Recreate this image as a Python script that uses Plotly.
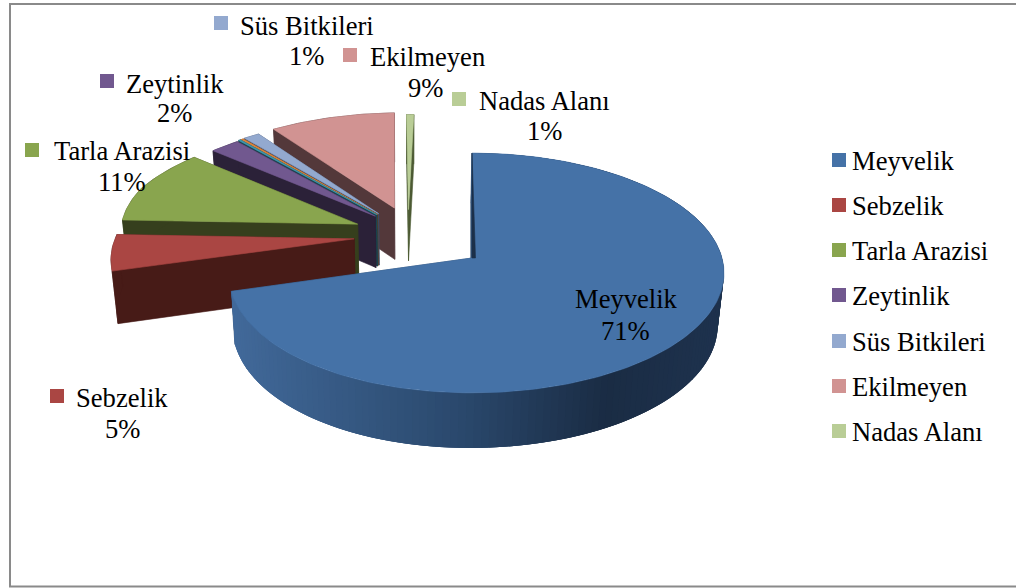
import math
import plotly.graph_objects as go

# ---- data ---------------------------------------------------------------
CATEGORIES = ["Meyvelik", "Sebzelik", "Tarla Arazisi", "Zeytinlik", "", "", "Süs Bitkileri", "Ekilmeyen", "Nadas Alanı"]
VALUES = [70.6, 5.0, 10.7, 2.2, 0.15, 0.2, 1.2, 9.4, 0.55]

# ---- styles ---------------------------------------------------------------
TOP_COLORS = ["#4572A7", "#AA4643", "#89A54E", "#71588F", "#4198AF", "#DB843D", "#93A9CF", "#D19392", "#B9CD96"]
WALL_COLORS = ["#2A4668", "#471B17", "#363F1D", "#2B2138", "#1A4550", "#6B3A14", "#3D4A63", "#53383A", "#4C5A33"]
FONT = "Liberation Serif"
FS = 26.6

# label placement: swatch x,y, name centre x,y, percent centre x,y
LABEL_POS = {
    "Meyvelik": (555, 297, 626, 299, 625, 331),
    "Sebzelik": (57, 396, 122, 398, 122, 429),
    "Tarla Arazisi": (32, 150, 122, 151, 122, 182),
    "Zeytinlik": (107, 81, 175, 84, 174, 113),
    "Süs Bitkileri": (221, 23, 307, 26, 306, 56),
    "Ekilmeyen": (350, 55, 427, 57, 425, 88),
    "Nadas Alanı": (459, 99, 544, 101, 544, 131),
}
LEGEND_X = 839
LEGEND_TEXT_X = 850
LEGEND_Y = [160, 205, 250, 295, 341, 386, 431]

# ---- projection of the tilted 3-D pie ----------------------------------
CX, CY, A, B, K = 472, 258, 250, 118, 0.125
EXPLODE = 0.27
VX, VS = 410, 0.98
SLICE_DX = [0, -1, -3, 0, -2, -2, -3, -6, -11.5]
SLICE_DY = [0, -4, -4, -2, -2, -2, -2, -3, 0]


def project(u, v):
    w = 1 + K * v
    weight = max(0.0, min(1.0, (0.6 - v) / 0.4)) if u < 0 else 0.0
    return CX + A * u / w + 9 * min(1.0, u * u) * weight, CY - B * v / w


def lower(p):
    x, y = p
    return VX + (x - VX) * VS, y + 50 + (y - 150) * 0.021


total = sum(VALUES)
edges = [0.0]
for val in VALUES:
    edges.append(edges[-1] + val / total * 2 * math.pi)


def centre(i):
    mid = (edges[i] + edges[i + 1]) / 2
    mid0 = (edges[0] + edges[1]) / 2
    return (EXPLODE * (math.sin(mid) - math.sin(mid0)), EXPLODE * (math.cos(mid) - math.cos(mid0)))


def apex_of(i):
    x, y = project(*centre(i))
    return x + SLICE_DX[i], y + SLICE_DY[i]


def rim(i, t):
    c = centre(i)
    x, y = project(c[0] + math.sin(t), c[1] + math.cos(t))
    return x + SLICE_DX[i], y + SLICE_DY[i]


def arc(i, a, b, n=None):
    n = n or max(2, int((b - a) / 0.02))
    return [rim(i, a + (b - a) * j / n) for j in range(n + 1)]


def poly(fig, pts, color, edge=0.6):
    fig.add_trace(go.Scatter(
        x=[p[0] for p in pts] + [pts[0][0]], y=[p[1] for p in pts] + [pts[0][1]],
        mode="lines", fill="toself", fillcolor=color,
        line=dict(color=color, width=edge), hoverinfo="skip", showlegend=False))


STOPS = [(230, (66, 106, 155)), (480, (42, 72, 108)), (620, (26, 44, 68)), (730, (30, 50, 78))]


def wall_shade(x):
    for (x1, c1), (x2, c2) in zip(STOPS, STOPS[1:]):
        if x <= x2:
            f = max(0, (x - x1) / (x2 - x1))
            return "rgb(%d,%d,%d)" % tuple(round(a + (b - a) * f) for a, b in zip(c1, c2))
    return "rgb(%d,%d,%d)" % STOPS[-1][1]


fig = go.Figure()

# slices, back to front
for i in range(len(VALUES) - 1, -1, -1):
    apex = apex_of(i)
    a, b = edges[i], edges[i + 1]
    p0, p1 = rim(i, a), rim(i, b)
    wall = WALL_COLORS[i]
    poly(fig, [p1, apex, lower(apex), lower(p1)], wall)
    poly(fig, [p0, apex, lower(apex), lower(p0)], wall)
    if i == 0:
        n = 160
        step = (b - a) / n
        # painted with overlap, from the left end towards the right, so no seams show
        for j in range(n - 1, -1, -1):
            t0 = a + step * j
            t1 = min(b, t0 + step * 3)
            seg = arc(i, t0, t1, 3)
            poly(fig, seg + [lower(p) for p in reversed(seg)], wall_shade(rim(i, t0 + step / 2)[0]), edge=0)
    else:
        seg = arc(i, a, b)
        poly(fig, seg + [lower(p) for p in reversed(seg)], wall)
    poly(fig, [apex] + arc(i, a, b), TOP_COLORS[i])
    if i == 0:
        # thin dark edge along the start of the first slice
        poly(fig, [p0, apex, (apex[0] + 3.5, apex[1])], "#1C3049")

# legend and data-label keys
named = [i for i, n in enumerate(CATEGORIES) if n]
for row, i in enumerate(named):
    name = CATEGORIES[i]
    sx, sy, nx, ny, px, py = LABEL_POS[name]
    fig.add_trace(go.Scatter(
        x=[LEGEND_X, sx], y=[LEGEND_Y[row], sy], mode="markers",
        marker=dict(symbol="square", size=14, color=TOP_COLORS[i], line=dict(width=0)),
        name=name, hoverinfo="skip", showlegend=False))
    fig.add_annotation(x=LEGEND_TEXT_X, y=LEGEND_Y[row] + 1, text=name, xanchor="left", yanchor="middle",
                       showarrow=False, font=dict(family=FONT, size=FS, color="#000000"))
    fig.add_annotation(x=nx, y=ny, text=name, xanchor="center", yanchor="middle",
                       showarrow=False, font=dict(family=FONT, size=FS, color="#000000"))
    fig.add_annotation(x=px, y=py, text=f"{round(VALUES[i])}%", xanchor="center", yanchor="middle",
                       showarrow=False, font=dict(family=FONT, size=FS, color="#000000"))

fig.update_layout(
    width=1016, height=588, margin=dict(l=0, r=0, t=0, b=0),
    paper_bgcolor="white", plot_bgcolor="white", showlegend=False,
    xaxis=dict(range=[0, 1016], visible=False, fixedrange=True),
    yaxis=dict(range=[588, 0], visible=False, fixedrange=True),
    shapes=[dict(type="rect", xref="x", yref="y", x0=10, y0=4, x1=1030, y1=586.5,
                 line=dict(color="#8A8A8A", width=2), layer="below")],
)
fig.write_html("out.html", config={"displayModeBar": False},
               post_script="document.documentElement.style.overflow='hidden';document.body.style.margin='0';")
